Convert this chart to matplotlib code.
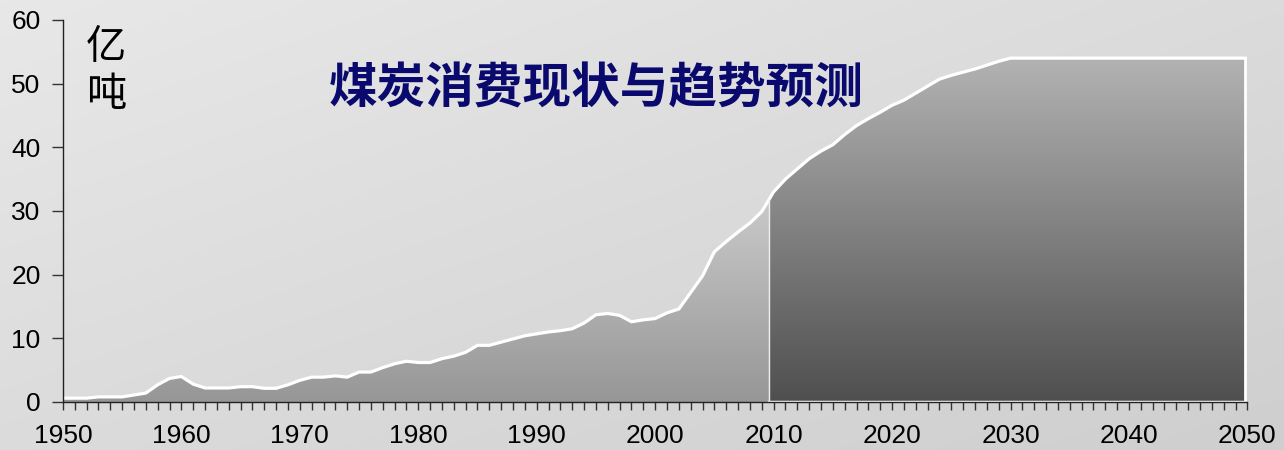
import numpy as np
import matplotlib
matplotlib.use('Agg')
import matplotlib.pyplot as plt
from matplotlib.patches import PathPatch

plt.rcParams['font.family'] = ['Liberation Sans', 'Noto Sans CJK SC', 'DejaVu Sans']

# coal consumption, 100 million tonnes
years = list(range(1950, 2031)) + [2050]
values = [0.6, 0.6, 0.6, 0.8, 0.8, 0.8, 1.1, 1.4, 2.7, 3.7,
          4.0, 2.8, 2.2, 2.2, 2.2, 2.4, 2.4, 2.15, 2.15, 2.7,
          3.4, 3.9, 3.9, 4.1, 3.9, 4.7, 4.7, 5.4, 6.0, 6.4,
          6.2, 6.2, 6.8, 7.2, 7.8, 8.9, 8.9, 9.4, 9.9, 10.4,
          10.7, 11.0, 11.2, 11.5, 12.4, 13.7, 13.9, 13.6, 12.6, 12.9,
          13.1, 14.0, 14.6, 17.2, 19.8, 23.6, 25.2, 26.7, 28.1, 29.9,
          33.0, 35.0, 36.6, 38.2, 39.4, 40.4, 42.0, 43.4, 44.5, 45.5,
          46.6, 47.4, 48.5, 49.6, 50.7, 51.3, 51.8, 52.3, 52.9, 53.5,
          54.0, 54.0]
forecast_start = 2009.6
forecast_end = 2049.8

title = '煤炭消费现状与趋势预测'
unit = '亿\n吨'

years = np.array(years, dtype=float)
values = np.array(values)

fig = plt.figure(figsize=(12.84, 4.5), dpi=100)

# background: soft diagonal grey gradient
bg = fig.add_axes([0, 0, 1, 1])
bg.axis('off')
gx, gy = np.meshgrid(np.linspace(0, 1, 200), np.linspace(0, 1, 200))
shade = 0.91 - 0.05 * gy - 0.05 * gx
bg.imshow(np.dstack([shade] * 3), extent=[0, 1, 0, 1], aspect='auto', origin='upper')
bg.set_zorder(-10)

ax = fig.add_axes([0.049, 0.1067, 0.9225, 0.849])
ax.patch.set_alpha(0)


def gradient_area(xs, ys, c_top, c_bottom, z):
    poly = ax.fill_between(xs, ys, 0, facecolor='none', edgecolor='none')
    patch = PathPatch(poly.get_paths()[0], facecolor='none', edgecolor='none',
                      transform=ax.transData)
    ax.add_patch(patch)
    t = np.linspace(1, 0, 256).reshape(-1, 1)
    col = c_bottom + (c_top - c_bottom) * t
    img = np.dstack([col] * 3)
    im = ax.imshow(img, extent=[xs[0], xs[-1], 0, ys.max()], aspect='auto',
                   origin='upper', zorder=z)
    im.set_clip_path(patch)


split_val = np.interp(forecast_start, years, values)

hist = years < forecast_start
hx = np.append(years[hist], forecast_start)
hy = np.append(values[hist], split_val)
gradient_area(hx, hy, 0.79, 0.59, 1)

fut = (years > forecast_start) & (years <= forecast_end)
fx = np.concatenate([[forecast_start], years[fut], [forecast_end]])
fy = np.concatenate([[split_val], values[fut], [np.interp(forecast_end, years, values)]])
gradient_area(fx, fy, 0.70, 0.31, 1)

# white outline
ax.plot(np.append(years[years <= forecast_end], forecast_end),
        np.append(values[years <= forecast_end], fy[-1]),
        color='white', lw=2.3, zorder=3, solid_joinstyle='round')
ax.plot([forecast_end, forecast_end], [0, fy[-1]], color='white', lw=2, zorder=3)
ax.plot([forecast_start, forecast_end], [0, 0], color='white', lw=2.5, zorder=2)
ax.plot([forecast_start, forecast_start], [0, split_val], color='#eeeeee', lw=1, zorder=3)

ax.set_xlim(1950, 2050)
ax.set_ylim(0, 60)
ax.set_xticks(range(1950, 2051, 10))
ax.set_xticks(range(1950, 2051), minor=True)
ax.set_yticks(range(0, 61, 10))
for s in ['top', 'right']:
    ax.spines[s].set_visible(False)
for s in ['left', 'bottom']:
    ax.spines[s].set_color('#222222')
    ax.spines[s].set_linewidth(1)
    ax.spines[s].set_zorder(4)
ax.tick_params(axis='x', which='both', direction='out', length=6, width=1,
               color='#333333', labelsize=19, pad=10)
ax.tick_params(axis='y', direction='out', length=8, width=1,
               color='#333333', labelsize=19, pad=8)

ax.text(0.0194, 0.982, unit, transform=ax.transAxes, fontsize=29,
        family=['Noto Sans CJK SC'], va='top', ha='left', linespacing=1.18)
ax.text(0.45, 0.819, title, transform=ax.transAxes, fontsize=35, fontweight='bold',
        family=['Noto Sans CJK SC'], color='#0a0a6e', ha='center', va='center')

fig.savefig('out.png', dpi=100)
